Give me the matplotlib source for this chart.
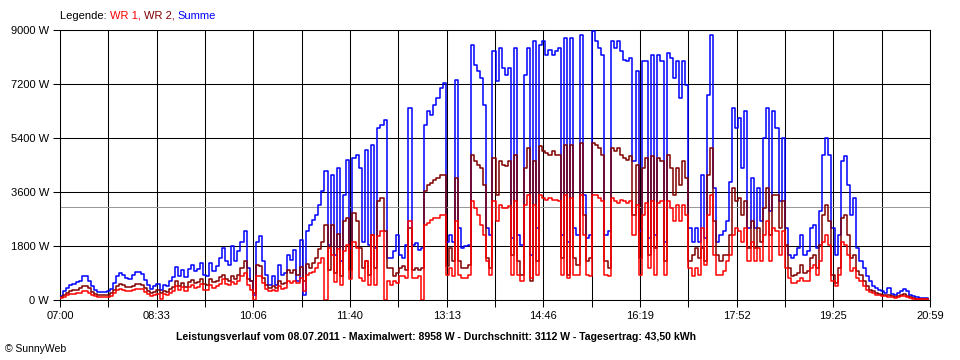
import numpy as np
import matplotlib
matplotlib.use('Agg')
import matplotlib.pyplot as plt

# minutes after 07:00, sampled every 3 minutes
minutes = np.arange(0, 840, 3)

summe = [
    120, 290, 400, 490, 530, 590, 640, 790, 790, 640, 455, 320, 270, 270, 270, 290, 380, 570, 790, 900,
    845, 730, 710, 820, 920, 920, 870, 680, 490, 380, 455, 530, 345, 510, 455, 620, 755, 1090, 790, 1010,
    755, 1040, 1180, 955, 1040, 1230, 845,
    790, 1230, 955, 1120, 1400, 1730, 1290, 1180, 1790, 1290, 1620, 1950, 2290, 1070, 620, 180, 1950, 2120, 1290, 845,
    510, 790, 510, 1180, 845, 900, 1510, 1340, 1680, 620, 2010, 180, 2290, 2510, 2680, 2840, 3180, 3620, 4290, 1840,
    4180, 1510, 4400, 1290, 3510, 4680, 1730,
    4730, 4840, 4400, 1950, 5010, 1840, 5180, 1730, 5730, 5840, 6010, 1400, 1400, 1620, 2180, 1510, 1400, 1840, 6400, 1840,
    1900, 1680, 1730, 5840, 6290, 6180, 6510, 6730, 7070, 7230, 1950, 2180, 1950, 7340, 2400, 1730, 1790, 1840, 8510, 7840,
    7620, 7400, 6510, 2400, 2180, 8290, 7290,
    8400, 7730, 7510, 7730, 2070, 8400, 2180, 1840, 7510, 8400, 1510, 8620, 2400, 8510, 8620, 8180, 8340, 8180, 8290, 8400,
    2180, 8730, 1950, 8730, 2400, 2180, 8840, 3510, 2070, 2180, 8958, 8620, 8400, 8180, 2180, 2290, 8620, 8400, 8620, 8290,
    8010, 7960, 8070, 4620, 7620, 2290, 7960,
    7960, 2070, 8180, 2180, 8180, 7960, 1950, 8230, 8070, 7400, 7960, 6730, 7960, 7180, 2400, 1950, 2400, 1950, 4180, 2070,
    6840, 8840, 3730, 1950, 2180, 2290, 2620, 3950, 6400, 5730, 6060, 4400, 6290, 2400, 4070, 2400, 3730, 2620, 5400, 6400,
    2960, 6290, 5730, 3290, 5400, 2400,
    1510, 1400, 1510, 1730, 2180, 1510, 1620, 2400, 2510, 1730, 2960, 4840, 5400, 4840, 2400, 1510, 2180, 4620, 4790, 3840,
    2840, 3400, 1730, 1290, 1070, 790, 620, 455, 400, 345, 290, 230, 400, 200, 180, 230, 290, 380, 290, 180,
    120, 90, 70, 55, 70, 45,
]

wr2 = [
    100, 180, 240, 290, 320, 350, 390, 480, 480, 400, 280, 200, 170, 170, 170, 180, 230, 340, 470, 530,
    500, 440, 420, 480, 540, 540, 510, 410, 300, 240, 280, 320, 220, 300, 280, 370, 450, 620, 470, 580,
    450, 600, 680, 560, 600, 700, 520,
    510, 700, 600, 620, 760, 845, 700, 650, 790, 700, 850, 1070, 1290, 700, 620, 250, 1180, 1150, 730, 500,
    400, 480, 400, 620, 520, 560, 1010, 900, 1000, 845, 1100, 620, 1200, 1070, 1250, 1400, 1700, 1950, 2510, 1000,
    2510, 900, 2200, 800, 2620, 2730, 1000,
    2900, 2620, 1730, 1070, 1290, 845, 2180, 1070, 3290, 3400, 2290, 1070, 1070, 790, 900, 1070, 1120, 1010, 2400, 1000,
    1070, 1010, 1070, 3620, 3840, 3900, 4010, 4070, 4180, 4180, 1120, 1730, 1290, 4070, 1290, 1070, 1070, 1180, 4840, 4620,
    4510, 4400, 3840, 1400, 1070, 4730, 3510,
    4620, 4510, 4460, 4620, 1510, 4840, 1290, 845, 4400, 5070, 620, 4620, 1290, 5120, 4960, 4900, 4840, 4960, 4840, 4840,
    1400, 5180, 845, 5180, 1400, 1180, 5230, 2840, 1290, 1400, 5230, 5180, 5070, 4840, 1290, 1070, 5070, 4960, 5070, 4840,
    4730, 4680, 4790, 2840, 4510, 1400, 4400,
    4730, 1510, 4790, 1730, 4730, 4620, 1290, 4840, 4400, 3510, 4400, 3840, 4620, 4070, 1290, 1510, 1730, 1400, 1730, 1290,
    4180, 5070, 2620, 1510, 1290, 1510, 1510, 2180, 3730, 3290, 3400, 2840, 3290, 1730, 2620, 1730, 2400, 1950, 3070, 3730,
    2180, 3510, 3510, 2400, 3290, 1840,
    1070, 790, 845, 900, 1180, 900, 955, 1400, 1510, 1070, 1840, 2840, 3180, 2620, 845, 570, 1070, 2730, 2840, 2180,
    1400, 1510, 955, 845, 620, 455, 345, 290, 230, 200, 180, 155, 180, 120, 90, 120, 180, 200, 135, 90,
    70, 45, 45, 35, 35, 20,
]

wr1 = [
    60, 110, 160, 200, 210, 240, 250, 310, 310, 240, 175, 120, 100, 100, 100, 110, 150, 230, 320, 370,
    345, 290, 290, 340, 380, 380, 360, 270, 190, 140, 175, 210, 20, 210, 175, 250, 305, 470, 320, 430,
    305, 440, 500, 395, 440, 530, 325,
    345, 500, 400, 455, 550, 700, 550, 500, 600, 550, 650, 800, 900, 500, 350, 0, 790, 800, 570, 380,
    290, 350, 290, 455, 380, 400, 620, 560, 650, 570, 750, 290, 850, 900, 950, 1070, 1250, 1400, 0, 1730,
    1500, 600, 1700, 500, 1650, 1840, 700,
    1950, 1730, 730, 620, 1290, 510, 2180, 510, 2120, 2290, 0, 620, 510, 620, 570, 790, 790, 730, 2620, 730,
    730, 790, 0, 2510, 2560, 2680, 2730, 2730, 2840, 2840, 845, 1070, 790, 2620, 845, 730, 730, 845, 3290, 3070,
    2840, 2510, 2180, 1290, 845, 3290, 2620,
    3180, 3070, 3070, 3120, 845, 3290, 845, 620, 3180, 3510, 730, 3180, 845, 3510, 3400, 3340, 3400, 3340, 3340, 3290,
    845, 3510, 730, 3400, 845, 845, 3510, 2180, 845, 790, 3510, 3510, 3400, 3290, 845, 790, 3400, 3290, 3230, 3340,
    3290, 3230, 3290, 2180, 3180, 845, 2840,
    3230, 1070, 3290, 845, 3230, 3290, 845, 3290, 3070, 2620, 3180, 2620, 3180, 2840, 1070, 790, 1070, 845, 2400, 1180,
    2840, 3510, 1510, 845, 845, 955, 1290, 1510, 2180, 2400, 2290, 1950, 2400, 1290, 1950, 1290, 1730, 1290, 2180, 2620,
    1290, 2400, 2290, 1510, 2290, 1070,
    730, 570, 570, 620, 730, 620, 620, 1070, 1180, 845, 1290, 1950, 2180, 1840, 620, 455, 845, 1950, 1840, 1510,
    955, 1070, 730, 620, 455, 345, 270, 220, 180, 155, 135, 120, 110, 90, 70, 90, 135, 145, 90, 55,
    45, 35, 20, 20, 20, 10,
]

average = 3112
time_labels = ['07:00', '08:33', '10:06', '11:40', '13:13', '14:46', '16:19', '17:52', '19:25', '20:59']
y_ticks = [0, 1800, 3600, 5400, 7200, 9000]

plt.rcParams['font.family'] = ['Liberation Sans', 'DejaVu Sans']

fig = plt.figure(figsize=(9.6, 3.6), dpi=100)
ax = fig.add_axes([60 / 960, 60 / 360, 870 / 960, 270 / 360])

ax.plot(minutes, summe, color='#0000FF', lw=1.1, drawstyle='steps-post', zorder=3)
ax.plot(minutes, wr2, color='#800000', lw=1.1, drawstyle='steps-post', zorder=4)
ax.plot(minutes, wr1, color='#FF0000', lw=1.1, drawstyle='steps-post', zorder=5)
ax.axhline(average, color='#999999', lw=0.75, zorder=2)

ax.set_xlim(0, 839)
ax.set_ylim(0, 9000)

xt = np.linspace(0, 839, 19)
ax.set_xticks(xt)
xl = []
for i in range(19):
    xl.append(time_labels[i // 2] if i % 2 == 0 else '')
ax.set_xticklabels(xl, fontsize=8)
ax.set_yticks(y_ticks)
ax.set_yticklabels([f'{v} W' for v in y_ticks], fontsize=8)
ax.tick_params(direction='out', length=5, width=0.75, color='black', pad=3)
ax.grid(True, color='black', lw=0.75, zorder=1)
ax.set_axisbelow(True)
for s in ax.spines.values():
    s.set_color('black')
    s.set_linewidth(0.75)

# legend line at the top
t0 = fig.text(60 / 960, 1 - 16 / 360, 'Legende: ', fontsize=8, color='black', va='center')
t1 = ax.annotate('WR 1, ', xy=(1, 0), xycoords=t0, va='bottom', fontsize=8, color='#FF0000')
t2 = ax.annotate('WR 2, ', xy=(1, 0), xycoords=t1, va='bottom', fontsize=8, color='#800000')
ax.annotate('Summe', xy=(1, 0), xycoords=t2, va='bottom', fontsize=8, color='#0000FF')

fig.text(176 / 960, 1 - 337 / 360,
         'Leistungsverlauf vom 08.07.2011 - Maximalwert: 8958 W - Durchschnitt: 3112 W - Tagesertrag: 43,50 kWh',
         fontsize=7.6, fontweight='bold', va='center', ha='left')
fig.text(5 / 960, 1 - 349 / 360, '\u00a9 SunnyWeb', fontsize=7.5, va='center', ha='left')

fig.savefig('out.png', dpi=100, facecolor='white')
